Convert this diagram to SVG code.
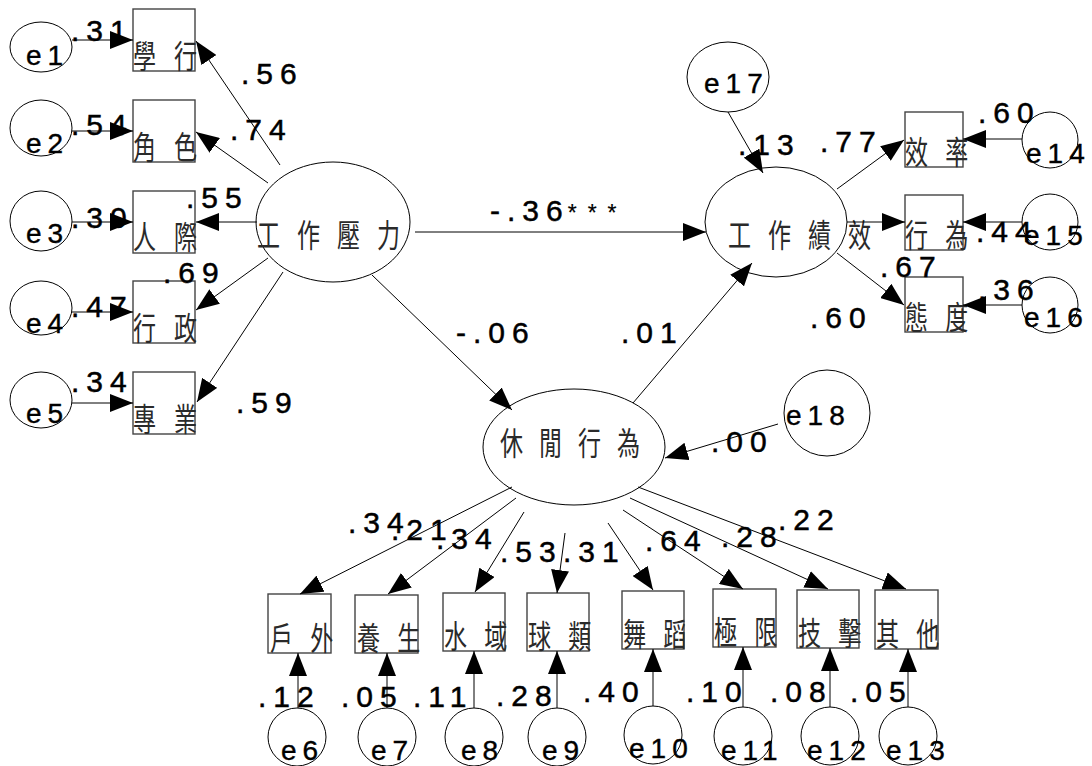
<svg xmlns="http://www.w3.org/2000/svg" width="1092" height="766" viewBox="0 0 1092 766">
<style>
.bg{fill:#fff}
.box{fill:none;stroke:#444;stroke-width:1.4}
.ell{fill:none;stroke:#000;stroke-width:1}
.cj{font-family:"Noto Sans CJK TC","Noto Sans CJK SC",sans-serif;font-size:32px;fill:#2a2a2a}
.num{font-family:"Liberation Sans",Arial,sans-serif;font-size:30px;letter-spacing:7px;fill:#000;stroke:#000;stroke-width:0.5px}
.ast{font-size:23px;letter-spacing:11px;stroke-width:0.2px}
.err{font-family:"Liberation Sans",Arial,sans-serif;font-size:28px;letter-spacing:6px;fill:#000;stroke:#000;stroke-width:0.4px}
.con line{stroke:#000;stroke-width:1;marker-end:url(#ah)}
</style>
<defs>
<marker id="ah" markerUnits="userSpaceOnUse" markerWidth="24" markerHeight="18" refX="23" refY="9" orient="auto" viewBox="0 0 24 18">
<path d="M0,0 L23,9 L0,18 Z" fill="#000"/>
</marker>
</defs>
<rect class="bg" x="0" y="0" width="1092" height="766"/>

<g id="nodes">
<g id="n-xuexing"><rect class="box" x="133" y="9" width="62" height="62"/><text class="cj" transform="translate(133,68) scale(0.72,1)" letter-spacing="25">學行</text></g>
<g id="n-jiaose"><rect class="box" x="133" y="100" width="62" height="62"/><text class="cj" transform="translate(133,159) scale(0.72,1)" letter-spacing="25">角色</text></g>
<g id="n-renji"><rect class="box" x="133" y="191" width="62" height="62"/><text class="cj" transform="translate(133,249) scale(0.72,1)" letter-spacing="25">人際</text></g>
<g id="n-xingzheng"><rect class="box" x="133" y="281" width="62" height="62"/><text class="cj" transform="translate(133,340) scale(0.72,1)" letter-spacing="25">行政</text></g>
<g id="n-zhuanye"><rect class="box" x="133" y="372" width="62" height="62"/><text class="cj" transform="translate(133,431) scale(0.72,1)" letter-spacing="25">專業</text></g>

<g id="n-xiaolv"><rect class="box" x="905" y="112" width="58" height="55"/><text class="cj" transform="translate(905,164) scale(0.72,1)" letter-spacing="24">效率</text></g>
<g id="n-xingwei"><rect class="box" x="905" y="195" width="58" height="55"/><text class="cj" transform="translate(905,247) scale(0.72,1)" letter-spacing="24">行為</text></g>
<g id="n-taidu"><rect class="box" x="905" y="277" width="58" height="55"/><text class="cj" transform="translate(905,329) scale(0.72,1)" letter-spacing="24">態度</text></g>

<g id="n-huwai"><rect class="box" x="268" y="594" width="63" height="59"/><text class="cj" transform="translate(270,650) scale(0.72,1)" letter-spacing="24">戶外</text></g>
<g id="n-yangsheng"><rect class="box" x="355" y="595" width="63" height="58"/><text class="cj" transform="translate(357,650) scale(0.72,1)" letter-spacing="24">養生</text></g>
<g id="n-shuiyu"><rect class="box" x="443" y="593" width="62" height="58"/><text class="cj" transform="translate(444,648) scale(0.72,1)" letter-spacing="24">水域</text></g>
<g id="n-qiulei"><rect class="box" x="527" y="593" width="62" height="58"/><text class="cj" transform="translate(528,648) scale(0.72,1)" letter-spacing="24">球類</text></g>
<g id="n-wudao"><rect class="box" x="622" y="591" width="62" height="58"/><text class="cj" transform="translate(623,646) scale(0.72,1)" letter-spacing="24">舞蹈</text></g>
<g id="n-jixian"><rect class="box" x="713" y="589" width="63" height="58"/><text class="cj" transform="translate(714,644) scale(0.72,1)" letter-spacing="24">極限</text></g>
<g id="n-jiji"><rect class="box" x="797" y="590" width="62" height="58"/><text class="cj" transform="translate(798,645) scale(0.72,1)" letter-spacing="24">技擊</text></g>
<g id="n-qita"><rect class="box" x="875" y="590" width="63" height="59"/><text class="cj" transform="translate(876,646) scale(0.72,1)" letter-spacing="24">其他</text></g>

<g id="n-stress"><ellipse class="ell" cx="333" cy="222" rx="77" ry="60"/><text class="cj" transform="translate(257,247) scale(0.72,1)" letter-spacing="23.6">工作壓力</text></g>
<g id="n-perf"><ellipse class="ell" cx="776" cy="222" rx="71" ry="55"/><text class="cj" transform="translate(728,247) scale(0.72,1)" letter-spacing="23.6">工作績效</text></g>
<g id="n-leisure"><ellipse class="ell" cx="574" cy="447" rx="91" ry="58"/><text class="cj" transform="translate(500,455) scale(0.72,1)" letter-spacing="22.2">休閒行為</text></g>

<g id="n-e1"><ellipse class="ell" cx="41" cy="47" rx="31" ry="25"/><text class="err" x="26" y="65">e1</text></g>
<g id="n-e2"><ellipse class="ell" cx="41" cy="128" rx="31" ry="28"/><text class="err" x="26" y="153">e2</text></g>
<g id="n-e3"><ellipse class="ell" cx="41" cy="221" rx="31" ry="30"/><text class="err" x="26" y="243">e3</text></g>
<g id="n-e4"><ellipse class="ell" cx="41" cy="308" rx="31" ry="27"/><text class="err" x="26" y="333">e4</text></g>
<g id="n-e5"><ellipse class="ell" cx="41" cy="400" rx="31" ry="28"/><text class="err" x="26" y="423">e5</text></g>
<g id="n-e14"><circle class="ell" cx="1050" cy="140" r="28"/><text class="err" x="1026" y="163">e14</text></g>
<g id="n-e15"><circle class="ell" cx="1050" cy="222" r="28"/><text class="err" x="1024" y="245">e15</text></g>
<g id="n-e16"><circle class="ell" cx="1050" cy="305" r="28"/><text class="err" x="1024" y="327">e16</text></g>
<g id="n-e17"><ellipse class="ell" cx="728" cy="77" rx="41" ry="35"/><text class="err" x="704" y="93">e17</text></g>
<g id="n-e18"><circle class="ell" cx="827" cy="413" r="43"/><text class="err" x="786" y="425">e18</text></g>
<g id="n-e6"><circle class="ell" cx="297" cy="737" r="29"/><text class="err" x="281" y="760">e6</text></g>
<g id="n-e7"><circle class="ell" cx="387" cy="737" r="29"/><text class="err" x="371" y="760">e7</text></g>
<g id="n-e8"><circle class="ell" cx="474" cy="737" r="29"/><text class="err" x="461" y="760">e8</text></g>
<g id="n-e9"><circle class="ell" cx="557" cy="737" r="29"/><text class="err" x="542" y="760">e9</text></g>
<g id="n-e10"><circle class="ell" cx="653" cy="735" r="29"/><text class="err" x="629" y="758">e10</text></g>
<g id="n-e11"><circle class="ell" cx="743" cy="736" r="29"/><text class="err" x="721" y="760">e11</text></g>
<g id="n-e12"><circle class="ell" cx="830" cy="736" r="29"/><text class="err" x="807" y="760">e12</text></g>
<g id="n-e13"><circle class="ell" cx="908" cy="736" r="29"/><text class="err" x="886" y="760">e13</text></g>
</g>

<g id="labels">
<text class="num" x="71" y="41">.31</text>
<text class="num" x="71" y="135">.54</text>
<text class="num" x="71" y="228">.30</text>
<text class="num" x="71" y="317">.47</text>
<text class="num" x="71" y="392">.34</text>
<text class="num" x="241" y="84">.56</text>
<text class="num" x="230" y="140">.74</text>
<text class="num" x="186" y="208">.55</text>
<text class="num" x="163" y="283">.69</text>
<text class="num" x="236" y="413">.59</text>
<text class="num" x="490" y="221">-.36<tspan class="ast" dx="-2">***</tspan></text>
<text class="num" x="456" y="343">-.06</text>
<text class="num" x="621" y="343">.01</text>
<text class="num" x="738" y="155">.13</text>
<text class="num" x="820" y="152">.77</text>
<text class="num" x="978" y="123">.60</text>
<text class="num" x="976" y="242">.44</text>
<text class="num" x="880" y="277">.67</text>
<text class="num" x="978" y="300">.36</text>
<text class="num" x="810" y="328">.60</text>
<text class="num" x="711" y="452">.00</text>
<text class="num" x="348" y="533">.34</text>
<text class="num" x="391" y="540">.21</text>
<text class="num" x="436" y="549">.34</text>
<text class="num" x="500" y="562">.53</text>
<text class="num" x="563" y="562">.31</text>
<text class="num" x="645" y="551">.64</text>
<text class="num" x="721" y="547">.28</text>
<text class="num" x="778" y="530">.22</text>
<text class="num" x="258" y="707">.12</text>
<text class="num" x="341" y="707">.05</text>
<text class="num" x="413" y="707">.11</text>
<text class="num" x="496" y="706">.28</text>
<text class="num" x="583" y="702">.40</text>
<text class="num" x="686" y="702">.10</text>
<text class="num" x="770" y="702">.08</text>
<text class="num" x="850" y="702">.05</text>
</g>

<g id="connectors" class="con">
<line x1="72" y1="40" x2="133" y2="40"/>
<line x1="72" y1="131" x2="133" y2="131"/>
<line x1="72" y1="222" x2="133" y2="222"/>
<line x1="72" y1="312" x2="133" y2="312"/>
<line x1="72" y1="403" x2="133" y2="403"/>
<line x1="280" y1="165" x2="196" y2="41"/>
<line x1="268" y1="183" x2="196" y2="132"/>
<line x1="257" y1="222" x2="196" y2="222"/>
<line x1="268" y1="258" x2="196" y2="310"/>
<line x1="283" y1="272" x2="197" y2="402"/>
<line x1="415" y1="232" x2="706" y2="232"/>
<line x1="372" y1="275" x2="512" y2="410"/>
<line x1="633" y1="403" x2="752" y2="263"/>
<line x1="728" y1="112" x2="763" y2="173"/>
<line x1="778" y1="424" x2="665" y2="458"/>
<line x1="837" y1="189" x2="904" y2="140"/>
<line x1="847" y1="222" x2="905" y2="222"/>
<line x1="837" y1="253" x2="904" y2="305"/>
<line x1="1022" y1="139" x2="963" y2="139"/>
<line x1="1022" y1="222" x2="963" y2="222"/>
<line x1="1022" y1="305" x2="963" y2="305"/>
<line x1="512" y1="487" x2="300" y2="594"/>
<line x1="516" y1="498" x2="388" y2="594"/>
<line x1="524" y1="512" x2="475" y2="592"/>
<line x1="565" y1="533" x2="557" y2="593"/>
<line x1="608" y1="523" x2="653" y2="590"/>
<line x1="623" y1="510" x2="743" y2="589"/>
<line x1="630" y1="498" x2="828" y2="589"/>
<line x1="638" y1="487" x2="906" y2="589"/>
<line x1="298" y1="708" x2="298" y2="653"/>
<line x1="387" y1="708" x2="387" y2="653"/>
<line x1="474" y1="708" x2="474" y2="651"/>
<line x1="557" y1="708" x2="557" y2="651"/>
<line x1="653" y1="706" x2="653" y2="649"/>
<line x1="743" y1="707" x2="743" y2="647"/>
<line x1="830" y1="707" x2="830" y2="648"/>
<line x1="908" y1="707" x2="908" y2="649"/>
</g>
</svg>
